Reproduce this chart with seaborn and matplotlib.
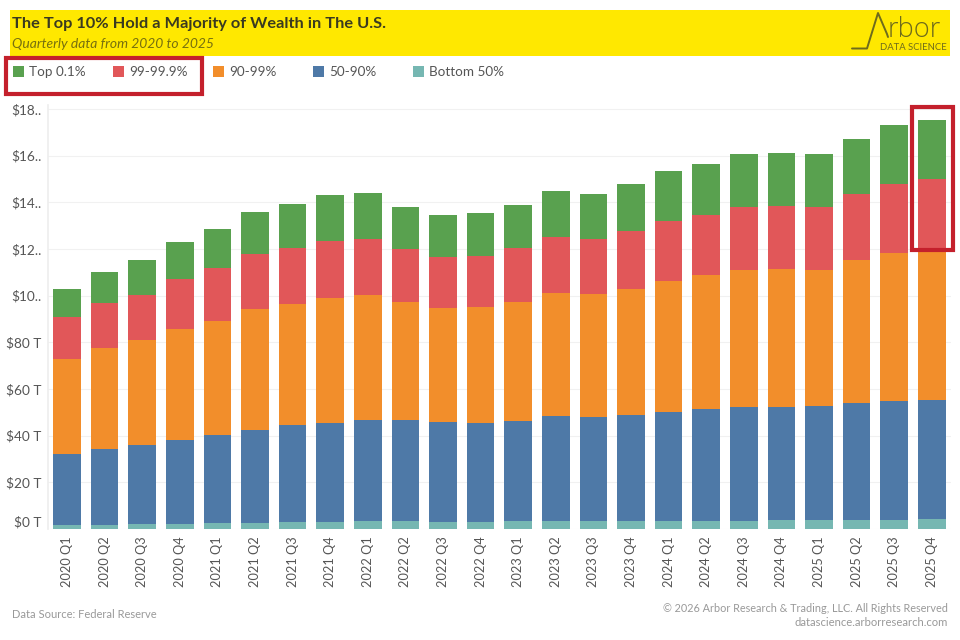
import numpy as np
import pandas as pd
import seaborn as sns
import matplotlib.pyplot as plt
from matplotlib.patches import Rectangle

# Data, trillions of dollars
quarters = ["2020 Q1", "2020 Q2", "2020 Q3", "2020 Q4", "2021 Q1", "2021 Q2", "2021 Q3", "2021 Q4",
            "2022 Q1", "2022 Q2", "2022 Q3", "2022 Q4", "2023 Q1", "2023 Q2", "2023 Q3", "2023 Q4",
            "2024 Q1", "2024 Q2", "2024 Q3", "2024 Q4", "2025 Q1", "2025 Q2", "2025 Q3", "2025 Q4"]
bottom_50 = [1.7, 1.7, 2.0, 2.3, 2.7, 2.7, 3.0, 3.0, 3.4, 3.4, 3.0, 3.0,
             3.4, 3.4, 3.4, 3.4, 3.4, 3.4, 3.4, 3.7, 3.7, 3.7, 3.7, 4.2]
pct_50_90 = [30.6, 32.5, 34.0, 35.8, 37.5, 39.9, 41.4, 42.3, 43.3, 43.3, 42.7, 42.3,
             43.0, 45.0, 44.6, 45.5, 46.9, 48.2, 48.9, 48.6, 48.9, 50.4, 51.2, 51.1]
pct_90_99 = [40.4, 43.5, 44.9, 47.5, 49.1, 51.6, 52.0, 53.7, 53.6, 50.7, 49.0, 49.9,
             50.8, 52.9, 52.6, 54.0, 56.1, 57.3, 58.6, 59.0, 58.4, 61.3, 63.5, 63.6]
pct_99_999 = [18.3, 19.0, 19.4, 21.4, 22.6, 23.7, 23.9, 24.6, 24.1, 22.7, 22.0, 21.9,
              23.2, 23.9, 23.6, 24.7, 25.7, 25.8, 27.1, 27.3, 27.1, 28.3, 29.6, 31.0]
top_01 = [11.9, 13.6, 14.9, 16.1, 16.7, 18.1, 18.9, 19.7, 19.7, 18.0, 17.8, 18.5,
          18.5, 19.5, 19.5, 20.3, 21.2, 21.7, 22.6, 22.6, 22.5, 23.6, 25.2, 25.4]

y_ticks = [0, 20, 40, 60, 80, 100, 120, 140, 160, 180]
y_labels = ["$0 T", "$20 T", "$40 T", "$60 T", "$80 T", "$10..", "$12..", "$14..", "$16..", "$18.."]

# stacked from the bottom up
groups = ["Bottom 50%", "50-90%", "90-99%", "99-99.9%", "Top 0.1%"]
colors = ["#76B7B2", "#4E79A7", "#F28E2B", "#E15759", "#59A14F"]
df = pd.DataFrame(dict(zip(groups, [bottom_50, pct_50_90, pct_90_99, pct_99_999, top_01])), index=quarters)

sns.set_theme(style="white")
plt.rcParams["font.family"] = ["Lato", "DejaVu Sans"]

fig = plt.figure(figsize=(9.6, 6.4), dpi=100)
ax = fig.add_axes([48.2 / 960, (640 - 529) / 640, 902.4 / 960, 424 / 640])

base = np.zeros(len(quarters))
for group, color in zip(groups, colors):
    sns.barplot(x=quarters, y=df[group].values, bottom=base, color=color, width=0.73,
                saturation=1, linewidth=0, ax=ax, zorder=3)
    base = base + df[group].values

ax.set_xlim(-0.5, 23.5)
ax.set_ylim(0, 181.7)
ax.set_yticks(y_ticks)
ax.set_yticklabels(y_labels, fontsize=9.8, color="#555555")
ax.tick_params(axis="y", length=0, pad=5)
ax.tick_params(axis="x", length=0, pad=5, labelrotation=90, labelsize=9.2, labelcolor="#555555")
ax.set_ylabel("")
ax.yaxis.grid(True, color="#f1f1f1", linewidth=0.8, zorder=0)
ax.get_yticklabels()[0].set_va("bottom")
sns.despine(ax=ax, top=True, right=True, bottom=True)
ax.spines["left"].set_color("#eeeeee")

# overlay in image pixels for the banner, legend, logo and red boxes
ov = fig.add_axes([0, 0, 1, 1], zorder=5)
ov.set_xlim(0, 960)
ov.set_ylim(640, 0)
ov.axis("off")

ov.add_patch(Rectangle((10, 10), 940, 46, color="#FFE800", lw=0))
ov.text(12, 24, "The Top 10% Hold a Majority of Wealth in The U.S.", fontsize=11.8,
        fontweight="bold", color="#3a3a20", va="center")
ov.text(12, 44, "Quarterly data from 2020 to 2025", fontsize=10, style="italic",
        color="#77700f", va="center")

# logo
logo_color = "#6e6b1c"
ov.plot([852, 867, 878, 887, 888], [48.5, 48.5, 13, 34, 37], color=logo_color, lw=1.4)
ov.text(888, 37, "rbor", fontsize=19.5, color=logo_color, va="baseline", family="Open Sans", fontweight="light")
ov.text(947, 48, "DATA SCIENCE", fontsize=6.8, color=logo_color, va="center", ha="right")

# legend
legend_order = ["Top 0.1%", "99-99.9%", "90-99%", "50-90%", "Bottom 50%"]
legend_colors = ["#59A14F", "#E15759", "#F28E2B", "#4E79A7", "#76B7B2"]
for i, (name, color) in enumerate(zip(legend_order, legend_colors)):
    ov.add_patch(Rectangle((13 + i * 100, 66), 11, 11, color=color, lw=0))
    ov.text(29 + i * 100, 72, name, fontsize=9.7, color="#555555", va="center")

# red highlight boxes
for x, y, w, h in [(6, 58, 196, 36), (912, 107, 41, 143)]:
    ov.add_patch(Rectangle((x, y), w, h, fill=False, edgecolor="#C4202C", lw=3))

# footer
ov.text(12, 615, "Data Source: Federal Reserve", fontsize=8, color="#999999", va="center")
ov.text(948, 608, "© 2026 Arbor Research & Trading, LLC. All Rights Reserved", fontsize=7.8,
        color="#999999", va="center", ha="right")
ov.text(948, 623, "datascience.arborresearch.com", fontsize=8.1, color="#999999", va="center", ha="right")

plt.savefig("out.png", dpi=100)
